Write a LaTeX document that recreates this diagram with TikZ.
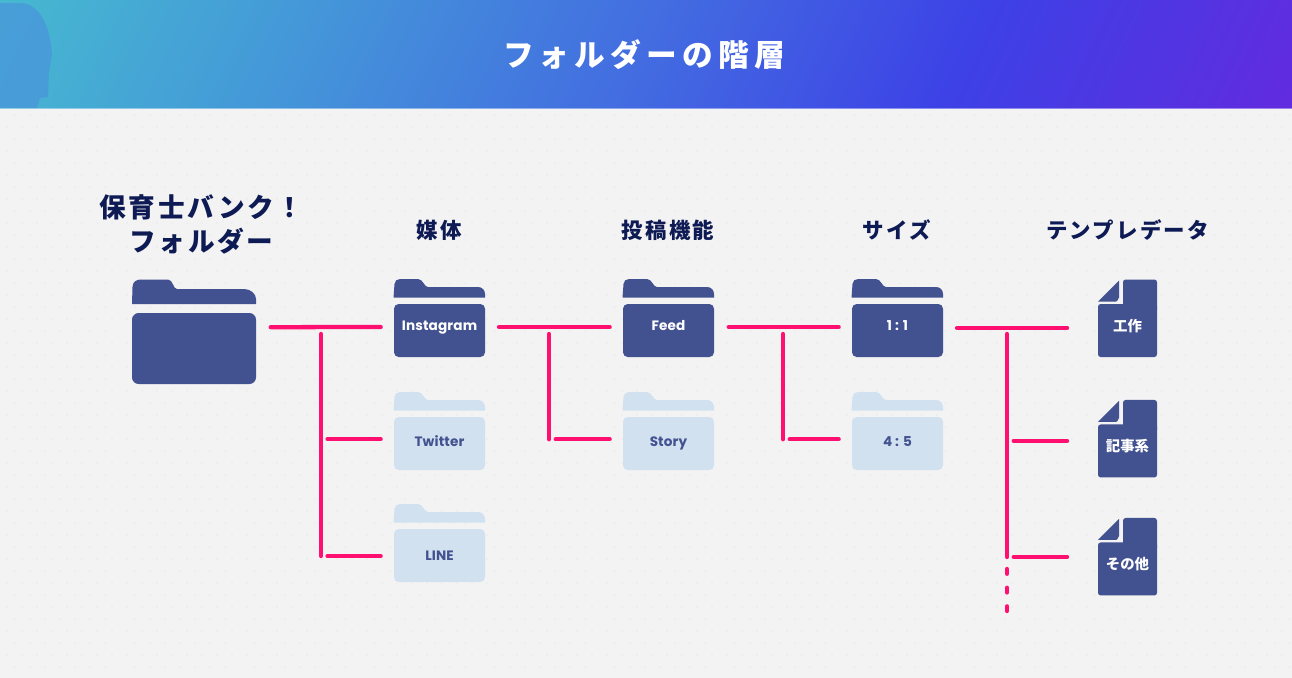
\documentclass[tikz,border=0pt]{standalone}
\usepackage{fontspec}
\usetikzlibrary{positioning,calc}
\setmainfont{Poppins}
\newfontfamily\latinfont[LetterSpace=1]{Poppins}
\newfontfamily\titlefont[LetterSpace=17]{Noto Sans CJK JP}
\newfontfamily\headfont[LetterSpace=10]{Noto Sans CJK JP}
\newfontfamily\docfont{Noto Sans CJK JP}
\definecolor{folderdark}{HTML}{425190}
\definecolor{folderlight}{HTML}{D2E1EF}
\definecolor{linkpink}{HTML}{FF0F6F}
\definecolor{headink}{HTML}{0D1A54}
\definecolor{paper}{HTML}{F3F3F3}
\definecolor{speck}{HTML}{DFDFDF}
\definecolor{banda}{HTML}{47C1CE}
\definecolor{bandb}{HTML}{4499D8}
\definecolor{bandc}{HTML}{436CE1}
\definecolor{bandd}{HTML}{3D41E6}
\definecolor{bande}{HTML}{6A26DD}
\definecolor{headshade}{HTML}{4A8FDD}
\pgfdeclarehorizontalshading{bandfill}{100bp}{color(0bp)=(banda);
  color(13bp)=(banda);
  color(31.5bp)=(bandb);
  color(50bp)=(bandc);
  color(66bp)=(bandd);
  color(87bp)=(bande);
  color(100bp)=(bande)}

\begin{document}
\begin{tikzpicture}[x=0.75pt,y=-0.75pt]

    \tikzstyle{link}=[line width=3.2pt,line cap=round,color=linkpink]
    \tikzstyle{head}=[inner sep=0pt,text=headink,font=\headfont\bfseries\fontsize{16.1pt}{25.5pt}\selectfont]
    \tikzstyle{fbody}=[inner sep=0pt,outer sep=0pt,rounded corners=3.5pt,font=\latinfont\bfseries\fontsize{10.2pt}{13pt}\selectfont]
    \tikzstyle{raised}=[text height=8pt,text depth=8pt]
    \tikzstyle{lowered}=[text height=8pt,text depth=3.5pt]
    \tikzstyle{dark}=[fbody,fill=folderdark,text=white,minimum width=68.25pt,minimum height=39.75pt]
    \tikzstyle{light}=[fbody,fill=folderlight,text=folderdark,minimum width=68.25pt,minimum height=39.75pt]
    \tikzstyle{docbody}=[fbody,fill=folderdark,text=white,rounded corners=2pt,minimum width=44.25pt,minimum height=39.75pt,text height=9pt,text depth=7.5pt,font=\docfont\bfseries\fontsize{10.8pt}{13pt}\selectfont]

    \useasboundingbox (0,0) rectangle (1292,678);
    \fill[paper] (0,0) rectangle (1292,678);
    % paper specks
    \foreach \j in {0,...,23}{
      \draw[speck,line width=1pt,line cap=round,dash pattern=on 0pt off 11.25pt] (0,115+\j*24) -- (1292,115+\j*24);
      \draw[speck,line width=1pt,line cap=round,dash pattern=on 0pt off 11.25pt] (7,127+\j*24) -- (1292,127+\j*24);
    }

    % top band
    \shade[shading=bandfill,shading angle=-25] (0,0) rectangle (1292,108);
    \fill[color=headshade,opacity=0.6] (0,3) -- (22,3) .. controls (38,5) and (50,22) .. (52,55)
      -- (49,72) -- (48,97) -- (40,98) -- (37,108) -- (0,108) -- cycle;
    \fill[white,opacity=0.4] (0,108) rectangle (1292,109);

    \node (bandtitle) at (644,55)[text=white,font=\titlefont\bfseries\fontsize{23pt}{26pt}\selectfont]{フォルダーの階層};

    % folders
    \node (root) at (194,348.5)[dark,rounded corners=5pt,minimum width=93pt,minimum height=53.25pt]{};
    \node (instagram) at (439.5,330.5)[dark,raised]{Instagram};
    \node (twitter) [below=45pt of instagram,light,lowered]{Twitter};
    \node (line) [below=44.25pt of twitter,light]{LINE};
    \node (feed) [right=103.5pt of instagram,dark,raised]{Feed};
    \node (story) [below=45pt of feed,light,lowered]{Story};
    \node (one) [right=103.5pt of feed,dark,raised]{1 : 1};
    \node (four) [below=45pt of one,light,lowered]{4 : 5};

    \fill[folderdark] ($(root.north west)+(0,-9)$) -- ($(root.north west)+(0.5,-26)$)
      .. controls +(0,-5) and +(-4,0) .. ($(root.north west)+(8.5,-33.5)$)
      -- ($(root.north west)+(36,-33.5)$) .. controls +(5,0) and +(-4,0) .. ($(root.north west)+(45,-24)$)
      -- ($(root.north west)+(112,-24)$) .. controls +(7,0) and +(0,-5) .. ($(root.north west)+(124,-14)$)
      -- ($(root.north west)+(124,-9)$) -- cycle;
    \foreach \f/\c in {instagram/folderdark,twitter/folderlight,line/folderlight,feed/folderdark,story/folderlight,one/folderdark,four/folderlight}{
      \fill[\c] ($(\f.north west)+(-0.5,-6.3)$) -- ($(\f.north west)+(0.5,-20)$)
        .. controls +(0,-3) and +(-3,0) .. ($(\f.north west)+(6,-25)$) -- ($(\f.north west)+(24,-25)$)
        .. controls +(5,0) and +(-4,0) .. ($(\f.north west)+(34,-17)$) -- ($(\f.north west)+(84,-17)$)
        .. controls +(4,0) and +(0,-4) .. ($(\f.north west)+(91,-10)$) -- ($(\f.north west)+(91,-6.3)$) -- cycle;
    }

    % template files
    \node (craft) at (1127.5,330.5)[docbody]{工作};
    \node (article) [below=50.6pt of craft,docbody]{記事系};
    \node (other) [below=48.75pt of article,docbody]{その他};
    \foreach \f in {craft,article,other}{
      \fill[folderdark,rounded corners=2pt] ($(\f.north west)+(25,8)$) -- ($(\f.north west)+(25,-24.5)$)
        -- ($(\f.north east)+(0,-24.5)$) -- ($(\f.north east)+(0,8)$) -- cycle;
      \fill[folderdark] ($(\f.north west)+(0,-2.5)$) -- ($(\f.north west)+(21,-23.5)$) -- ($(\f.north west)+(21,-6)$)
        .. controls +(0,-2) and +(2,0) .. ($(\f.north west)+(18,-2.5)$) -- cycle;
    }

    % headings
    \node (roothead) at (201.5,224)[head,align=center,font=\headfont\bfseries\fontsize{20pt}{25.5pt}\selectfont]{保育士バンク！\\フォルダー};
    \node (mediahead) at (439,230)[head]{媒体};
    \node (posthead) at (668,230)[head]{投稿機能};
    \node (sizehead) at (897,230)[head]{サイズ};
    \node (filehead) at (1127.5,230)[head]{テンプレデータ};

    % connector ends
    \coordinate (rootout) at ([xshift=11pt,yshift=16pt]root.east);
    \foreach \f/\s in {instagram/2.6,feed/2.6,one/2.6,twitter/3.2,story/3.2,four/3.2,line/-0.4}{
      \coordinate (\f-in) at ([xshift=-10pt,yshift=\s pt]\f.west);
    }
    \foreach \f/\s in {craft/2,article/7.5,other/9}{
      \coordinate (\f-in) at ([xshift=-23.2pt,yshift=\s pt]\f.west);
    }
    \coordinate (instaout) at ([xshift=10.5pt,yshift=2.6pt]instagram.east);
    \coordinate (feedout) at ([xshift=11pt,yshift=2.6pt]feed.east);
    \coordinate (oneout) at ([xshift=10.5pt,yshift=2pt]one.east);
    \coordinate (trunka) at (321,334);
    \coordinate (trunkb) at (549,334);
    \coordinate (trunkc) at (783,334);
    \coordinate (trunkd) at (1007,334);
    \coordinate (morea) at (1007,569);
    \coordinate (moreb) at (1007,611);

    \draw[link] (rootout) -- (instagram-in);
    \draw[link] (trunka) -- (trunka |- line-in);
    \draw[link] ([xshift=4.9pt]trunka |- twitter-in) -- (twitter-in);
    \draw[link] ([xshift=4.9pt]trunka |- line-in) -- (line-in);

    \draw[link] (instaout) -- (feed-in);
    \draw[link] (trunkb) -- (trunkb |- story-in);
    \draw[link] ([xshift=5pt]trunkb |- story-in) -- (story-in);

    \draw[link] (feedout) -- (one-in);
    \draw[link] (trunkc) -- (trunkc |- four-in);
    \draw[link] ([xshift=5pt]trunkc |- four-in) -- (four-in);

    \draw[link] (oneout) -- (craft-in);
    \draw[link] (trunkd) -- (trunkd |- other-in);
    \draw[link] ([xshift=5pt]trunkd |- article-in) -- (article-in);
    \draw[link] ([xshift=5pt]trunkd |- other-in) -- (other-in);
    \draw[link,dash pattern=on 3.6pt off 10.4pt] (morea) -- (moreb);

\end{tikzpicture}
\end{document}
